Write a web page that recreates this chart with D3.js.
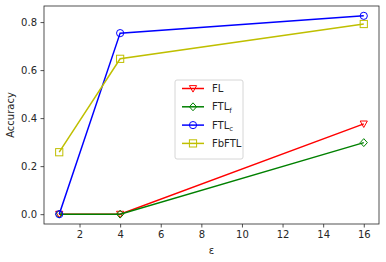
<!DOCTYPE html>
<html>
<head>
<meta charset="utf-8">
<script src="https://cdn.jsdelivr.net/npm/d3@7"></script>
<style>
  body { margin: 0; background: white; }
  svg text { font-family: "DejaVu Sans", sans-serif; fill: #262626; }
</style>
</head>
<body>
<div id="chart"></div>
<script>
const epsilons = [1, 4, 16];
const flValues = [0.0, 0.0, 0.376];
const ftlfValues = [0.0, 0.0, 0.298];
const ftlcValues = [0.0, 0.754, 0.826];
const fbftlValues = [0.258, 0.647, 0.792];
const xTicks = [2, 4, 6, 8, 10, 12, 14, 16];
const yTicks = [0.0, 0.2, 0.4, 0.6, 0.8];

const series = [
    {name: "FL", sub: "", values: flValues, color: "#ff0000", marker: "tri"},
    {name: "FTL", sub: "f", values: ftlfValues, color: "#008000", marker: "diamond"},
    {name: "FTL", sub: "c", values: ftlcValues, color: "#0000ff", marker: "circle"},
    {name: "FbFTL", sub: "", values: fbftlValues, color: "#bfbf00", marker: "square"}
];

render();

function render() {
    const width = 386, height = 262;
    const margin = {left: 44, right: 7, top: 6, bottom: 38};

    const svg = d3.select("#chart").append("svg")
        .attr("width", width)
        .attr("height", height);

    const x = d3.scaleLinear()
        .domain([0.25, 16.75])
        .range([margin.left, width - margin.right]);
    const y = d3.scaleLinear()
        .domain([-0.041, 0.867])
        .range([height - margin.bottom, margin.top]);

    const xAxis = svg.append("g")
        .attr("transform", `translate(0,${height - margin.bottom})`)
        .call(d3.axisBottom(x).tickValues(xTicks).tickSize(3.5).tickPadding(3.5).tickFormat(d3.format("d")));
    const yAxis = svg.append("g")
        .attr("transform", `translate(${margin.left},0)`)
        .call(d3.axisLeft(y).tickValues(yTicks).tickSize(3.5).tickPadding(3.5).tickFormat(d3.format(".1f")));

    [xAxis, yAxis].forEach(a => {
        a.select(".domain").remove();
        a.selectAll("line").attr("stroke", "#262626").attr("stroke-width", 0.8);
        a.selectAll("text").style("font-size", "10px").attr("fill", "#262626");
    });

    // frame
    svg.append("rect")
        .attr("x", margin.left)
        .attr("y", margin.top)
        .attr("width", width - margin.left - margin.right)
        .attr("height", height - margin.top - margin.bottom)
        .attr("fill", "none")
        .attr("stroke", "#262626")
        .attr("stroke-width", 0.8);

    svg.append("text")
        .attr("x", (margin.left + width - margin.right) / 2)
        .attr("y", 254)
        .attr("text-anchor", "middle")
        .style("font-size", "10px")
        .text("ε");

    svg.append("text")
        .attr("transform", `translate(14,${(margin.top + height - margin.bottom) / 2}) rotate(-90)`)
        .attr("text-anchor", "middle")
        .style("font-size", "10px")
        .text("Accuracy");

    const line = d3.line()
        .x((d, i) => x(epsilons[i]))
        .y(d => y(d));

    series.forEach(s => {
        svg.append("path")
            .datum(s.values)
            .attr("d", line)
            .attr("fill", "none")
            .attr("stroke", s.color)
            .attr("stroke-width", 1.5);

        s.values.forEach((v, i) => {
            drawMarker(svg.append("g").attr("transform", `translate(${x(epsilons[i])},${y(v)})`), s);
        });
    });

    // legend
    const lg = svg.append("g").attr("transform", "translate(175,80)");
    lg.append("rect")
        .attr("width", 68)
        .attr("height", 79)
        .attr("rx", 2)
        .attr("fill", "white")
        .attr("fill-opacity", 0.8)
        .attr("stroke", "#cccccc")
        .attr("stroke-width", 0.8);

    series.forEach((s, i) => {
        const yy = 8.5 + i * 18.3;
        const row = lg.append("g");
        row.append("line")
            .attr("x1", 7).attr("x2", 29)
            .attr("y1", yy).attr("y2", yy)
            .attr("stroke", s.color)
            .attr("stroke-width", 1.5);
        drawMarker(row.append("g").attr("transform", `translate(18,${yy})`), s);
        const t = row.append("text")
            .attr("x", 37)
            .attr("y", yy + 3.5)
            .style("font-size", "10px")
            .text(s.name);
        if (s.sub) {
            t.append("tspan")
                .attr("dy", 2.5)
                .style("font-size", "7px")
                .text(s.sub);
        }
    });

    function drawMarker(g, s) {
        const r = 3.6;
        let shape;
        if (s.marker === "circle") {
            shape = g.append("circle").attr("r", r);
        } else if (s.marker === "square") {
            shape = g.append("rect").attr("x", -r).attr("y", -r).attr("width", 2 * r).attr("height", 2 * r);
        } else if (s.marker === "diamond") {
            shape = g.append("path").attr("d", `M0,${-r * 1.1}L${r},0L0,${r * 1.1}L${-r},0Z`);
        } else {
            shape = g.append("path").attr("d", `M${-r},${-r * 0.8}L${r},${-r * 0.8}L0,${r}Z`);
        }
        shape.attr("fill", "none")
            .attr("stroke", s.color)
            .attr("stroke-width", 1);
    }
}
</script>
</body>
</html>
